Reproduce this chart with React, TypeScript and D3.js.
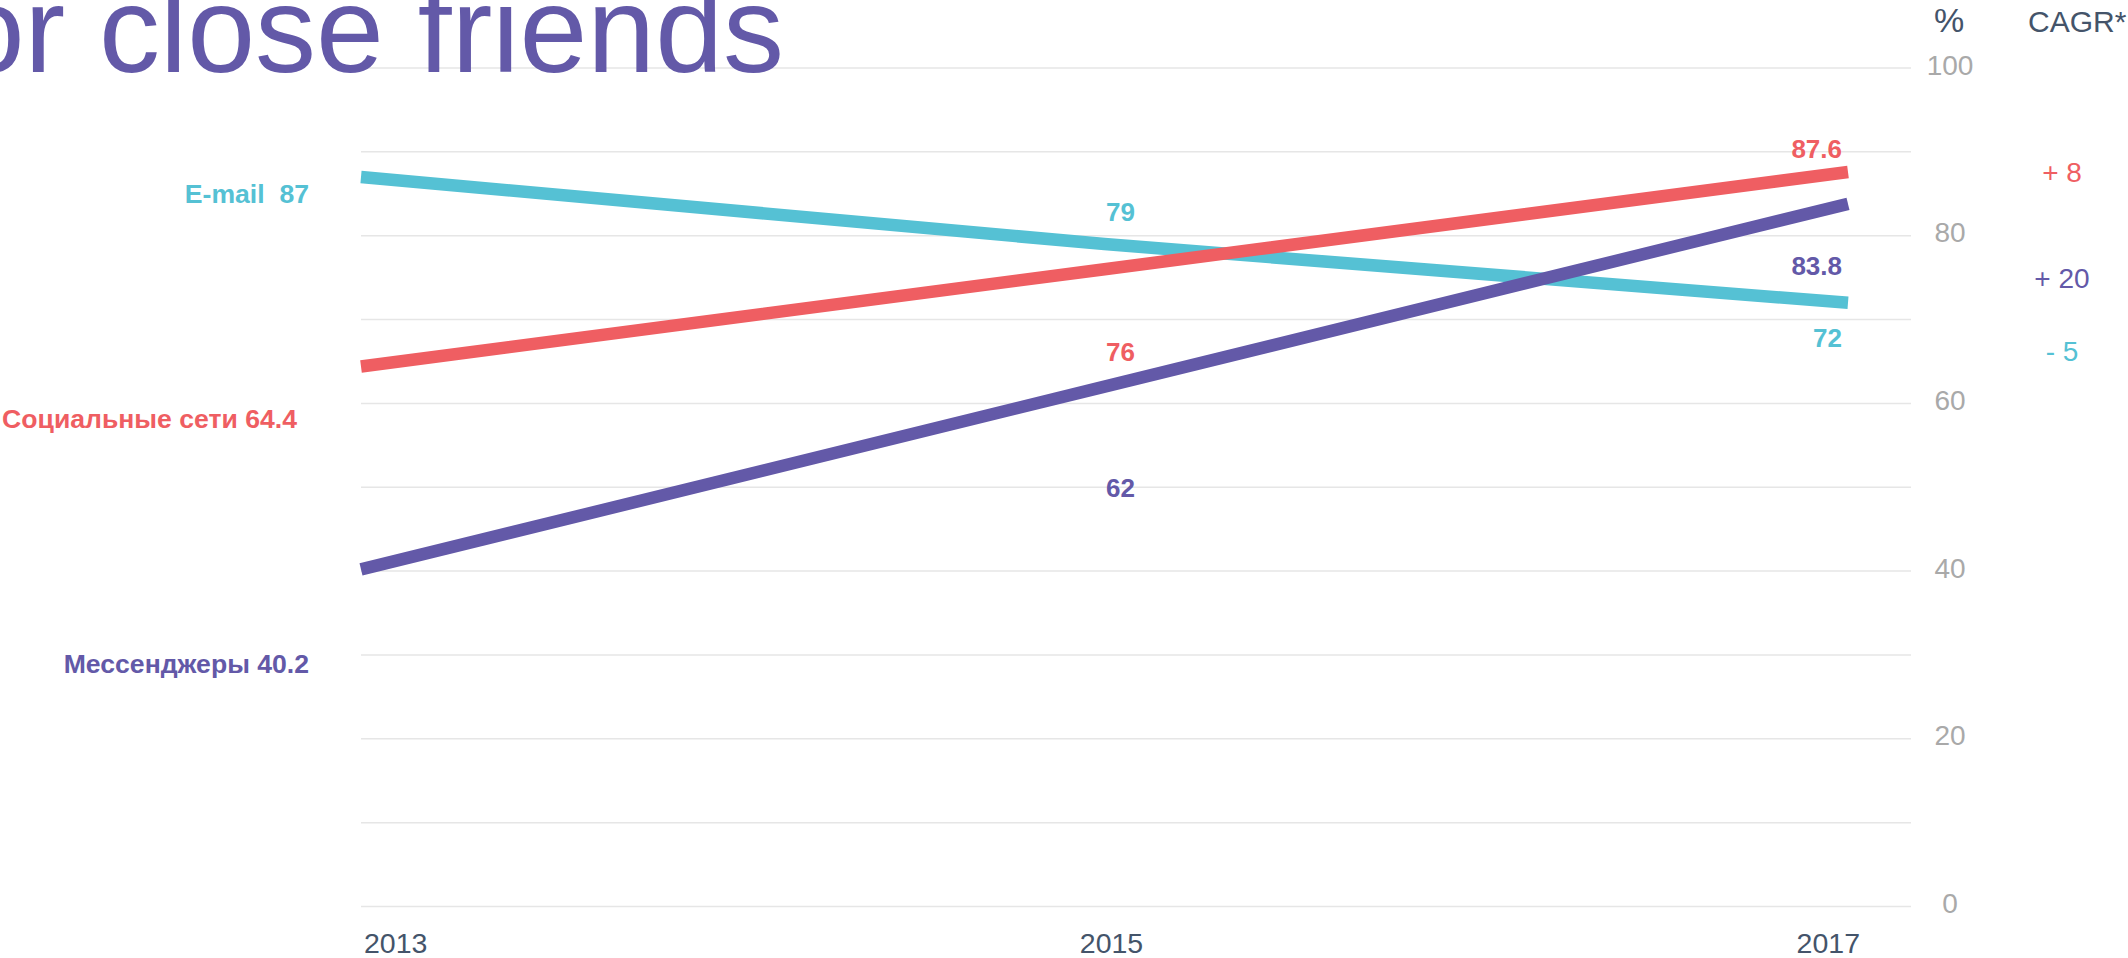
import React, { useRef, useEffect } from 'react'
import * as d3 from 'd3'

// data
const years = [2013, 2015, 2017]
const emailValues = [87, 79, 72]
const socialValues = [64.4, 76, 87.6]
const messengerValues = [40.2, 62, 83.8]
const seriesNames = ['E-mail ', 'Социальные сети', 'Мессенджеры']
const cagrLabels = ['- 5', '+ 8', '+ 20']
const yTickValues = [0, 20, 40, 60, 80, 100]
const gridValues = [0, 10, 20, 30, 40, 50, 60, 70, 80, 90, 100]

const colors = ['#55c1d4', '#ef5e62', '#6359a8']

// label nudges (px) per series: start, middle, end, cagr
const labelShift = [
    { startX: 309, start: 17, mid: -32, end: 35, cagr: 49 },
    { startX: 297, start: 52, mid: 83, end: -23, cagr: 1 },
    { startX: 309, start: 95, mid: 101, end: 62, cagr: 75 },
]

const FONT = '"Liberation Sans", Arial, Helvetica, sans-serif'

const App = () => {

    const chartRef = useRef<SVGSVGElement>(null)

    function drawChart() {
        const svg = d3.select(chartRef.current)
        svg.selectAll('*').remove()

        const width = 2128
        const height = 958

        const x = d3.scaleLinear()
            .domain([2013, 2017])
            .range([361, 1848])

        const y = d3.scaleLinear()
            .domain([0, 100])
            .range([906.5, 68])

        svg.attr('width', width).attr('height', height)

        // grid
        svg.append('g')
            .selectAll('line')
            .data(gridValues)
            .enter()
            .append('line')
            .attr('x1', 361)
            .attr('x2', 1911)
            .attr('y1', d => y(d))
            .attr('y2', d => y(d))
            .attr('stroke', '#e6e6e6')
            .attr('stroke-width', 1.5)

        // y tick labels on the right
        svg.append('g')
            .selectAll('text')
            .data(yTickValues)
            .enter()
            .append('text')
            .attr('x', 1950)
            .attr('y', d => y(d) - 3)
            .attr('text-anchor', 'middle')
            .attr('dominant-baseline', 'central')
            .attr('font-family', FONT)
            .attr('font-size', 28)
            .attr('fill', '#a9a9a9')
            .text(d => d)

        // x labels
        const anchors = ['start', 'middle', 'end']
        const xNudge = [3, 7, 12]
        svg.append('g')
            .selectAll('text')
            .data(years)
            .enter()
            .append('text')
            .attr('x', (d, i) => x(d) + xNudge[i])
            .attr('y', 953)
            .attr('text-anchor', (d, i) => anchors[i])
            .attr('font-family', FONT)
            .attr('font-size', 28.5)
            .attr('fill', '#44546a')
            .text(d => d)

        // title (cut off at the top, like the slide)
        svg.append('text')
            .attr('x', 784)
            .attr('y', 72)
            .attr('text-anchor', 'end')
            .attr('font-family', FONT)
            .attr('font-size', 122)
            .attr('fill', '#6359a8')
            .text('or close friends')

        // headers
        svg.append('text')
            .attr('x', 1949)
            .attr('y', 32)
            .attr('text-anchor', 'middle')
            .attr('font-family', FONT)
            .attr('font-size', 34)
            .attr('fill', '#44546a')
            .text('%')

        svg.append('text')
            .attr('x', 2028)
            .attr('y', 32)
            .attr('font-family', FONT)
            .attr('font-size', 30)
            .attr('fill', '#44546a')
            .text('CAGR*')

        const series = [emailValues, socialValues, messengerValues]

        const line = d3.line<number>()
            .x((d, i) => x(years[i]))
            .y(d => y(d))

        series.forEach((values, s) => {
            svg.append('path')
                .datum(values)
                .attr('fill', 'none')
                .attr('stroke', colors[s])
                .attr('stroke-width', 12.5)
                .attr('d', line)
        })

        series.forEach((values, s) => {
            const sh = labelShift[s]
            const g = svg.append('g')
                .attr('font-family', FONT)
                .attr('font-weight', 'bold')
                .attr('font-size', 26)
                .attr('fill', colors[s])
                .attr('dominant-baseline', 'central')

            g.append('text')
                .attr('x', sh.startX)
                .attr('y', y(values[0]) + sh.start)
                .attr('text-anchor', 'end')
                .attr('font-size', 26.6)
                .style('white-space', 'pre')
                .text(`${seriesNames[s]} ${values[0]}`)

            g.append('text')
                .attr('x', x(years[1]) + 16)
                .attr('y', y(values[1]) + sh.mid)
                .attr('text-anchor', 'middle')
                .text(values[1])

            g.append('text')
                .attr('x', x(years[2]) - 6)
                .attr('y', y(values[2]) + sh.end)
                .attr('text-anchor', 'end')
                .text(values[2])

            svg.append('text')
                .attr('x', 2062)
                .attr('y', y(values[2]) + sh.cagr)
                .attr('text-anchor', 'middle')
                .attr('dominant-baseline', 'central')
                .attr('font-family', FONT)
                .attr('font-size', 28)
                .attr('fill', colors[s])
                .text(cagrLabels[s])
        })
    }

    useEffect(() => {
        drawChart()
    }, [])

    return (
        <svg ref={chartRef} style={{ position: 'absolute', left: 0, top: 0, display: 'block', background: '#fff' }}></svg>
    )
}

export default App
